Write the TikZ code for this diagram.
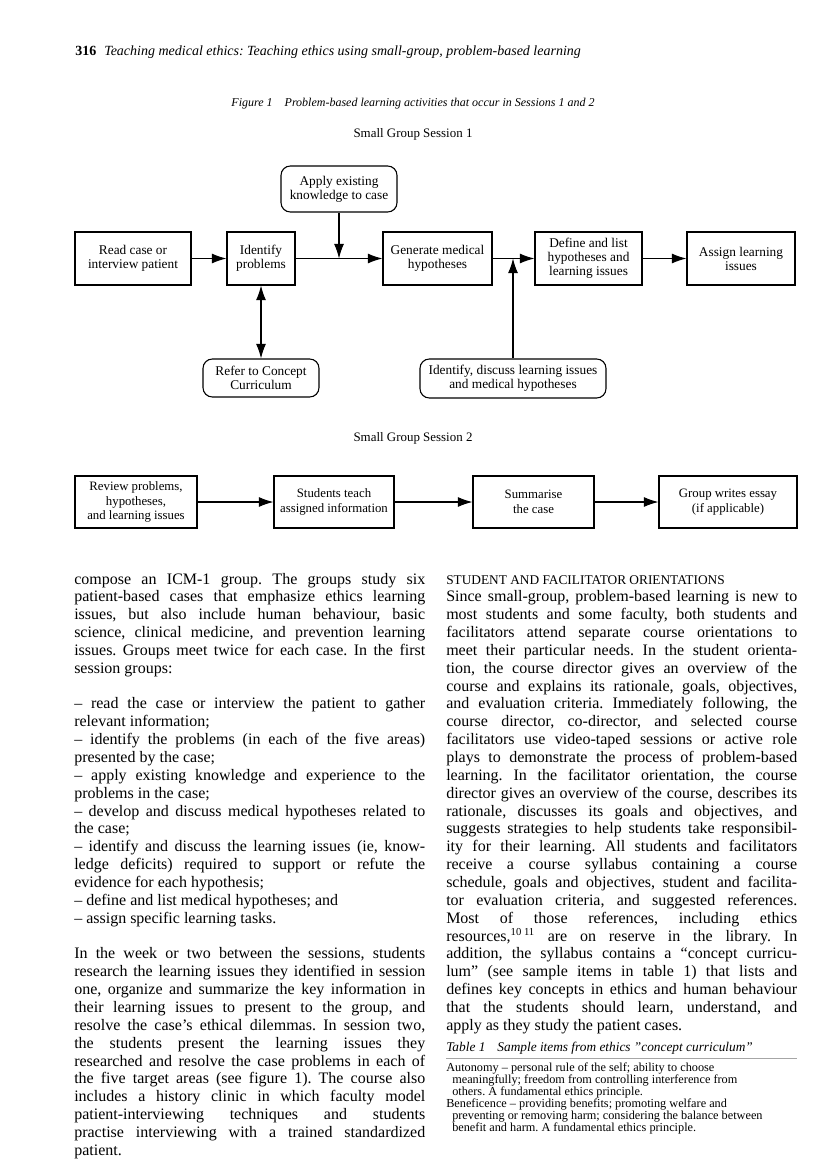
\documentclass[tikz,border=0pt]{standalone}
\usepackage{fontspec}
\setmainfont{Liberation Serif}
\usetikzlibrary{arrows.meta}
\newlength\colw
\setlength\colw{263.25pt}
\newcommand\jl[1]{\hbox to\colw{#1}}
\newcommand\nl[1]{\hbox{#1}}
\newcommand\bl{\vskip\baselineskip}
\newcommand\ti{\hskip4.5pt}
\begin{document}
\frenchspacing
\begin{tikzpicture}[x=0.75pt,y=-0.75pt,
  box/.style={draw,line width=0.8pt,align=center,inner sep=0pt,font=\fontsize{10}{10.5}\selectfont},
  rbox/.style={box,rounded corners=7pt},
  box2/.style={box,font=\fontsize{9.6}{11}\selectfont},
  arr/.style={line width=0.8pt,-{Latex[length=11pt,width=7.5pt]}},
  darr/.style={line width=0.8pt,{Latex[length=11pt,width=7.5pt]}-{Latex[length=11pt,width=7.5pt]}},
  ttl/.style={inner sep=0pt,font=\fontsize{9.7}{12}\selectfont},
  txt/.style={inner sep=0pt,anchor=base west},
 ]
\useasboundingbox (0,0) rectangle (816,1163);
\fill[white] (0,0) rectangle (816,1163);

% header
\node[txt] (hdr) at (75,56) {\fontsize{10.5}{12}\selectfont\textbf{316}\hspace{6pt}\textit{Teaching medical ethics: Teaching ethics using small-group, problem-based learning}};
\node[inner sep=0pt,anchor=base] (cap) at (413,106) {\fontsize{9}{11}\selectfont\itshape Figure 1\hspace{9pt}Problem-based learning activities that occur in Sessions 1 and 2};

% session 1
\node[ttl,anchor=base] (t1) at (413,137) {Small Group Session 1};
\node[box,minimum width=116*0.75pt,minimum height=53*0.75pt] (read) at (133,258.5) {Read case or\\interview patient};
\node[box,minimum width=68*0.75pt,minimum height=53*0.75pt] (ident) at (261,258.5) {Identify\\problems};
\node[rbox,minimum width=116*0.75pt,minimum height=46*0.75pt] (apply) at (339,189) {Apply existing\\knowledge to case};
\node[box,minimum width=109*0.75pt,minimum height=53*0.75pt] (gen) at (437.5,258.5) {Generate medical\\hypotheses};
\node[box,minimum width=107*0.75pt,minimum height=53*0.75pt] (define) at (588.5,258.5) {Define and list\\hypotheses and\\learning issues};
\node[box,minimum width=108*0.75pt,minimum height=53*0.75pt] (assign) at (741,258.5) {Assign learning\\issues};
\node[rbox,minimum width=116*0.75pt,minimum height=38*0.75pt] (refer) at (261,378) {Refer to Concept\\Curriculum};
\node[rbox,minimum width=186*0.75pt,minimum height=39*0.75pt] (idisc) at (513,378.5) {Identify, discuss learning issues\\and medical hypotheses};

\coordinate (j1) at (apply.south |- ident.east);
\coordinate (j2) at (idisc.north |- gen.east);
\draw[arr] (read.east) -- (ident.west);
\draw[arr] (ident.east) -- (gen.west);
\draw[arr] (apply.south) -- (j1);
\draw[arr] (gen.east) -- (define.west);
\draw[arr] (idisc.north) -- (j2);
\draw[arr] (define.east) -- (assign.west);
\draw[darr] (ident.south) -- (refer.north);

% session 2
\node[ttl,anchor=base] (t2) at (413,441) {Small Group Session 2};
\node[box2,minimum width=122*0.75pt,minimum height=52*0.75pt] (review) at (136,502) {Review problems,\\hypotheses,\\and learning issues};
\node[box2,minimum width=120*0.75pt,minimum height=52*0.75pt] (students) at (334,502) {Students teach\\assigned information};
\node[box2,minimum width=121*0.75pt,minimum height=52*0.75pt] (summ) at (533.5,502) {Summarise\\the case};
\node[box2,minimum width=138*0.75pt,minimum height=52*0.75pt] (group) at (728,502) {Group writes essay\\(if applicable)};
\draw[arr] (review.east) -- (students.west);
\draw[arr] (students.east) -- (summ.west);
\draw[arr] (summ.east) -- (group.west);

% left column
\node[txt] (colL) at (74,584) {\begin{minipage}[t]{\colw}\fontsize{12}{13.39}\selectfont
\jl{compose an ICM-1 group. The groups study six}
\jl{patient-based cases that emphasize ethics learning}
\jl{issues, but also include human behaviour, basic}
\jl{science, clinical medicine, and prevention learning}
\jl{issues. Groups meet twice for each case. In the first}
\nl{session groups:}
\bl
\jl{– read the case or interview the patient to gather}
\nl{relevant information;}
\jl{– identify the problems (in each of the five areas)}
\nl{presented by the case;}
\jl{– apply existing knowledge and experience to the}
\nl{problems in the case;}
\jl{– develop and discuss medical hypotheses related to}
\nl{the case;}
\jl{– identify and discuss the learning issues (ie, know-}
\jl{ledge deficits) required to support or refute the}
\nl{evidence for each hypothesis;}
\nl{– define and list medical hypotheses; and}
\nl{– assign specific learning tasks.}
\bl
\jl{In the week or two between the sessions, students}
\jl{research the learning issues they identified in session}
\jl{one, organize and summarize the key information in}
\jl{their learning issues to present to the group, and}
\jl{resolve the case’s ethical dilemmas. In session two,}
\jl{the students present the learning issues they}
\jl{researched and resolve the case problems in each of}
\jl{the five target areas (see figure 1). The course also}
\jl{includes a history clinic in which faculty model}
\jl{patient-interviewing techniques and students}
\jl{practise interviewing with a trained standardized}
\nl{patient.}
\end{minipage}};

% right column
\node[txt] (colR) at (446,584) {\begin{minipage}[t]{\colw}\fontsize{12}{13.39}\selectfont
{\fontsize{10}{13.39}\selectfont\nl{STUDENT AND FACILITATOR ORIENTATIONS}}
\jl{Since small-group, problem-based learning is new to}
\jl{most students and some faculty, both students and}
\jl{facilitators attend separate course orientations to}
\jl{meet their particular needs. In the student orienta-}
\jl{tion, the course director gives an overview of the}
\jl{course and explains its rationale, goals, objectives,}
\jl{and evaluation criteria. Immediately following, the}
\jl{course director, co-director, and selected course}
\jl{facilitators use video-taped sessions or active role}
\jl{plays to demonstrate the process of problem-based}
\jl{learning. In the facilitator orientation, the course}
\jl{director gives an overview of the course, describes its}
\jl{rationale, discusses its goals and objectives, and}
\jl{suggests strategies to help students take responsibil-}
\jl{ity for their learning. All students and facilitators}
\jl{receive a course syllabus containing a course}
\jl{schedule, goals and objectives, student and facilita-}
\jl{tor evaluation criteria, and suggested references.}
\jl{Most of those references, including ethics}
\jl{resources,\textsuperscript{10 11} are on reserve in the library. In}
\jl{addition, the syllabus contains a “concept curricu-}
\jl{lum” (see sample items in table 1) that lists and}
\jl{defines key concepts in ethics and human behaviour}
\jl{that the students should learn, understand, and}
\nl{apply as they study the patient cases.}
\end{minipage}};

% table
\node[txt] (tcap) at (446,1051) {\fontsize{10}{12}\selectfont\itshape Table 1\hspace{9pt}Sample items from ethics \char"0022concept curriculum\char"0022};
\draw[line width=1.4pt,gray!70] (446,1058.5) -- (797,1058.5);
\node[txt] (tbl) at (446,1071) {\begin{minipage}[t]{\colw}\fontsize{9.2}{9.1}\selectfont\lineskiplimit=-10pt
\nl{Autonomy – personal rule of the self; ability to choose}
\nl{\ti meaningfully; freedom from controlling interference from}
\nl{\ti others. A fundamental ethics principle.}
\nl{Beneficence – providing benefits; promoting welfare and}
\nl{\ti preventing or removing harm; considering the balance between}
\nl{\ti benefit and harm. A fundamental ethics principle.}
\end{minipage}};
\end{tikzpicture}
\end{document}
